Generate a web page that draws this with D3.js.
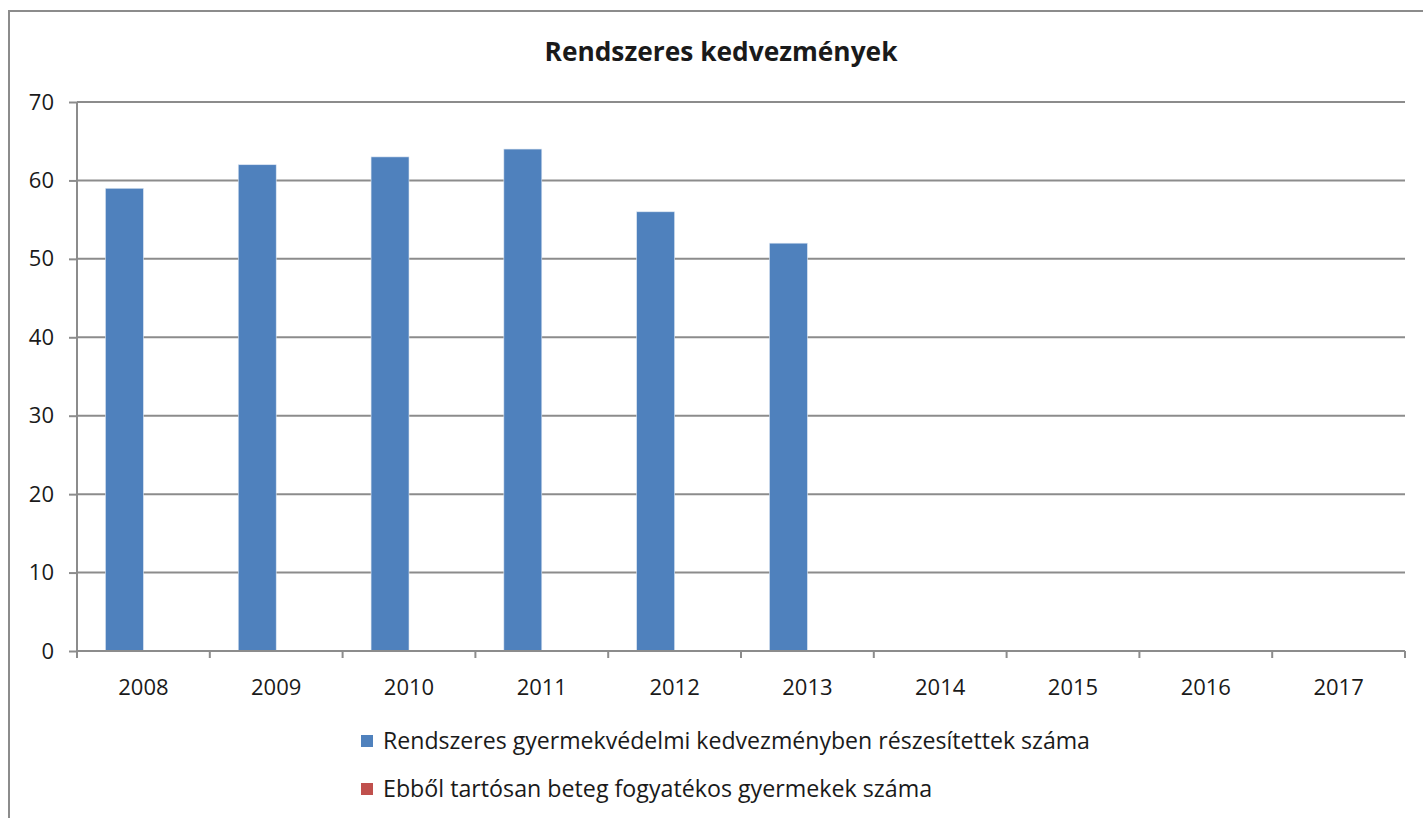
<!DOCTYPE html>
<html>
<head>
<meta charset="utf-8">
<script src="https://cdn.jsdelivr.net/npm/d3@7"></script>
<style>
  body { margin: 0; background: #fff; }
  text { font-family: "Open Sans", "Noto Sans", sans-serif; fill: #1a1a1a; }
</style>
</head>
<body>
<div id="chart"></div>
<script>
const years = ['2008', '2009', '2010', '2011', '2012', '2013', '2014', '2015', '2016', '2017'];
const seriesNames = [
    'Rendszeres gyermekvédelmi kedvezményben részesítettek száma',
    'Ebből tartósan beteg fogyatékos gyermekek száma',
];
const seriesColors = ['#4f81bd', '#c0504d'];
const kedvezmeny = [59, 62, 63, 64, 56, 52, null, null, null, null];
const betegek = [null, null, null, null, null, null, null, null, null, null];
const yTicks = [0, 10, 20, 30, 40, 50, 60, 70];

const width = 1423;
const height = 818;
const margin = { top: 102, right: 18, bottom: 167, left: 77 };
const innerW = width - margin.left - margin.right;
const innerH = height - margin.top - margin.bottom;

const svg = d3.select('#chart').append('svg')
    .attr('width', width)
    .attr('height', height);

// shrink / grow a text so it spans the width seen in the picture
function fitWidth(sel, target, base) {
    sel.style('font-size', `${base}px`);
    const w = sel.node().getComputedTextLength();
    sel.style('font-size', `${(base * target / w).toFixed(2)}px`);
}

// outer chart frame
svg.append('path')
    .attr('d', `M9,${height + 5}V11H${width + 5}`)
    .attr('fill', 'none')
    .attr('stroke', '#8c8c8c')
    .attr('stroke-width', 2);

const title = svg.append('text')
    .attr('x', 721)
    .attr('y', 61)
    .attr('text-anchor', 'middle')
    .style('font-weight', 'bold')
    .text('Rendszeres kedvezmények');
fitWidth(title, 353, 22);

const g = svg.append('g')
    .attr('transform', `translate(${margin.left},${margin.top})`);

const x = d3.scaleBand().domain(years).range([0, innerW]);
// Excel style: gap width 150% between groups of two bars
const barW = x.bandwidth() / 3.5;
const x1 = d3.scaleBand().domain([0, 1]).range([barW * 0.75, barW * 2.75]);
const y = d3.scaleLinear().domain([0, 70]).range([innerH, 0]);

// gridlines
g.selectAll('.grid')
    .data(yTicks.filter(d => d > 0))
    .enter().append('line')
    .attr('x1', 0)
    .attr('x2', innerW)
    .attr('y1', d => y(d))
    .attr('y2', d => y(d))
    .attr('stroke', '#8c8c8c')
    .attr('stroke-width', 2);

// bars
const series = [kedvezmeny, betegek];
series.forEach((vals, si) => {
    g.selectAll(`.bar${si}`)
        .data(vals.map((v, i) => ({ year: years[i], v })).filter(d => d.v != null))
        .enter().append('rect')
        .attr('x', d => x(d.year) + x1(si))
        .attr('width', x1.bandwidth())
        .attr('y', d => y(d.v))
        .attr('height', d => innerH - y(d.v))
        .attr('fill', seriesColors[si])
        .attr('stroke', '#dce6f2')
        .attr('stroke-width', 0.6);
});

// y axis
const yAxis = g.append('g')
    .call(d3.axisLeft(y).tickValues(yTicks).tickSize(8).tickPadding(15));
yAxis.select('.domain').attr('stroke', '#8c8c8c').attr('stroke-width', 2).attr('d', `M0,0V${innerH}`);
yAxis.selectAll('.tick line').attr('stroke', '#8c8c8c').attr('stroke-width', 2);
yAxis.selectAll('.tick text')
    .style('font-size', '22px')
    .style('font-family', '"Open Sans", sans-serif')
    .attr('fill', '#1a1a1a');

// x axis: ticks at category boundaries
const xAxis = g.append('g').attr('transform', `translate(0,${innerH})`);
xAxis.append('line')
    .attr('x1', 0).attr('x2', innerW)
    .attr('stroke', '#8c8c8c').attr('stroke-width', 2);
xAxis.selectAll('.xt')
    .data(years.concat(['end']))
    .enter().append('line')
    .attr('x1', (d, i) => (i < years.length ? x(d) : innerW))
    .attr('x2', (d, i) => (i < years.length ? x(d) : innerW))
    .attr('y1', 0).attr('y2', 7)
    .attr('stroke', '#8c8c8c').attr('stroke-width', 2);
xAxis.selectAll('.xl')
    .data(years)
    .enter().append('text')
    .attr('x', d => x(d) + x.bandwidth() / 2)
    .attr('y', 44)
    .attr('text-anchor', 'middle')
    .style('font-size', '22px')
    .text(d => d);

// legend
const legendWidths = [707, 549];
const legend = svg.append('g').attr('transform', 'translate(361,732)');
seriesNames.forEach((name, i) => {
    const item = legend.append('g').attr('transform', `translate(0,${i * 48})`);
    item.append('rect')
        .attr('width', 12).attr('height', 12)
        .attr('y', 3)
        .attr('fill', seriesColors[i]);
    const t = item.append('text')
        .attr('x', 22)
        .attr('y', 17)
        .text(name);
    fitWidth(t, legendWidths[i], 20);
});
</script>
</body>
</html>
